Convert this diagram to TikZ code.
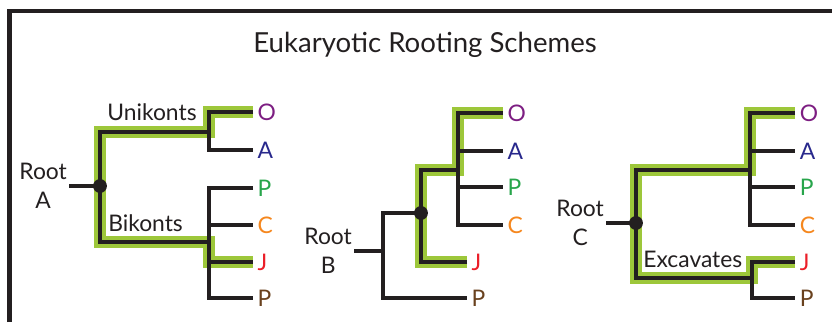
\documentclass[tikz,border=0pt]{standalone}
\usepackage{fontspec}
\setmainfont{Lato}
\usepackage{tikz}
\usetikzlibrary{positioning}
\definecolor{ink}{RGB}{35,31,32}
\definecolor{hiGreen}{RGB}{157,199,58}
\definecolor{txtO}{RGB}{125,30,130}
\definecolor{txtA}{RGB}{40,40,140}
\definecolor{txtP}{RGB}{40,165,75}
\definecolor{txtC}{RGB}{245,135,30}
\definecolor{txtJ}{RGB}{235,30,40}
\definecolor{txtPb}{RGB}{105,65,30}
\tikzset{
  frame/.style={ink, line width=2.3pt},
  branch/.style={ink, line width=2.8pt, line join=miter},
  hilite/.style={hiGreen, line width=6.8pt, line join=miter},
  knot/.style={circle, fill=ink, inner sep=0pt, minimum size=7.9pt},
  leaf/.style={font=\fontsize{13}{13}\selectfont, inner sep=0pt, anchor=west},
  rootlbl/.style={font=\fontsize{13}{16.4}\selectfont, align=center, text=ink, inner sep=0pt},
  clade/.style={font=\fontsize{13}{13}\selectfont, text=ink, inner sep=1pt}
}

\begin{document}
\begin{tikzpicture}[x=0.02cm, y=-0.02cm]
    \useasboundingbox (0,0) rectangle (832,322);

    % Frame and Title
    \coordinate (fBL) at (9.5,322);
    \coordinate (fTL) at (9.5,11);
    \coordinate (fTR) at (832,11);
    \draw[frame] (fBL) -- (fTL) -- (fTR);
    \node[font=\fontsize{15.7}{18}\selectfont, text=ink] (title) at (425,45) {Eukaryotic Rooting Schemes};

    % Tree A: Points
    \coordinate (aRoot) at (69,186);
    \coordinate (aFork) at (100,186);
    \coordinate (aTop) at (100,132);
    \coordinate (aBot) at (100,242);
    \coordinate (aUni) at (209,132);
    \coordinate (aBi) at (209,242);
    \coordinate (aO) at (253,112);
    \coordinate (aA) at (253,150);
    \coordinate (aP) at (253,188);
    \coordinate (aC) at (253,225);
    \coordinate (aJ) at (253,262);
    \coordinate (aPb) at (253,298);

    % Tree A: Highlight and Branches
    \draw[hilite] (aO) -| (aUni) -| (aFork) |- (aBi) |- (aJ);
    \draw[branch] (aRoot) -- (aFork);
    \draw[branch] (aUni) -| (aFork) |- (aBi);
    \draw[branch] (aO) -| (aUni) |- (aA);
    \draw[branch] (aP) -| (aBi) |- (aPb);
    \draw[branch] (aBi |- aC) -- (aC);
    \draw[branch] (aBi |- aJ) -- (aJ);
    \node[knot] (aDot) at (aFork) {};

    % Tree A: Labels
    \node[rootlbl, left=1pt of aRoot] (aRootLbl) {Root\\A};
    \node[clade, above right=5.2pt and 3pt of aTop] (uniLbl) {Unikonts};
    \node[clade, above right=4.7pt and 3.5pt of aBot] (biLbl) {Bikonts};
    \node[leaf, text=txtO, right=2.5pt of aO] (aOLbl) {O};
    \node[leaf, text=txtA, right=2.5pt of aA] (aALbl) {A};
    \node[leaf, text=txtP, right=2.5pt of aP] (aPLbl) {P};
    \node[leaf, text=txtC, right=2.5pt of aC] (aCLbl) {C};
    \node[leaf, text=txtJ, right=2.5pt of aJ] (aJLbl) {J};
    \node[leaf, text=txtPb, right=2.5pt of aPb] (aPbLbl) {P};

    % Tree B: Points
    \coordinate (bRoot) at (354,251);
    \coordinate (bStem) at (383,251);
    \coordinate (bLow) at (383,298);
    \coordinate (bFork) at (421,213);
    \coordinate (bTop) at (421,170);
    \coordinate (bMid) at (458,170);
    \coordinate (bO) at (503,113);
    \coordinate (bA) at (503,151);
    \coordinate (bP) at (503,187);
    \coordinate (bC) at (503,225);
    \coordinate (bJ) at (467,262);
    \coordinate (bPb) at (467,298);

    % Tree B: Highlight and Branches
    \draw[hilite] (bO) -| (bMid) -- (bTop) |- (bJ);
    \draw[branch] (bRoot) -- (bStem);
    \draw[branch] (bFork) -| (bLow) -- (bPb);
    \draw[branch] (bJ) -| (bTop) -- (bMid);
    \draw[branch] (bO) -| (bMid) |- (bC);
    \draw[branch] (bMid |- bA) -- (bA);
    \draw[branch] (bMid |- bP) -- (bP);
    \node[knot] (bDot) at (bFork) {};

    % Tree B: Labels
    \node[rootlbl, left=1pt of bRoot] (bRootLbl) {Root\\B};
    \node[leaf, text=txtO, right=2.5pt of bO] (bOLbl) {O};
    \node[leaf, text=txtA, right=2.5pt of bA] (bALbl) {A};
    \node[leaf, text=txtP, right=2.5pt of bP] (bPLbl) {P};
    \node[leaf, text=txtC, right=2.5pt of bC] (bCLbl) {C};
    \node[leaf, text=txtJ, right=2.5pt of bJ] (bJLbl) {J};
    \node[leaf, text=txtPb, right=2.5pt of bPb] (bPbLbl) {P};

    % Tree C: Points
    \coordinate (cRoot) at (606,223);
    \coordinate (cFork) at (636,223);
    \coordinate (cBot) at (636,278);
    \coordinate (cUp) at (750,170);
    \coordinate (cLow) at (752,278);
    \coordinate (cO) at (795,113);
    \coordinate (cA) at (795,151);
    \coordinate (cP) at (795,187);
    \coordinate (cC) at (795,225);
    \coordinate (cJ) at (795,262);
    \coordinate (cPb) at (795,298);

    % Tree C: Highlight and Branches
    \draw[hilite] (cO) -| (cUp) -| (cFork) |- (cLow) |- (cJ);
    \draw[branch] (cRoot) -- (cFork);
    \draw[branch] (cUp) -| (cFork) |- (cLow);
    \draw[branch] (cO) -| (cUp) |- (cC);
    \draw[branch] (cUp |- cA) -- (cA);
    \draw[branch] (cUp |- cP) -- (cP);
    \draw[branch] (cJ) -| (cLow) |- (cPb);
    \node[knot] (cDot) at (cFork) {};

    % Tree C: Labels
    \node[rootlbl, left=1pt of cRoot] (cRootLbl) {Root\\C};
    \node[clade, above right=4.7pt and 3pt of cBot] (excLbl) {Excavates};
    \node[leaf, text=txtO, right=2.5pt of cO] (cOLbl) {O};
    \node[leaf, text=txtA, right=2.5pt of cA] (cALbl) {A};
    \node[leaf, text=txtP, right=2.5pt of cP] (cPLbl) {P};
    \node[leaf, text=txtC, right=2.5pt of cC] (cCLbl) {C};
    \node[leaf, text=txtJ, right=2.5pt of cJ] (cJLbl) {J};
    \node[leaf, text=txtPb, right=2.5pt of cPb] (cPbLbl) {P};

\end{tikzpicture}
\end{document}
